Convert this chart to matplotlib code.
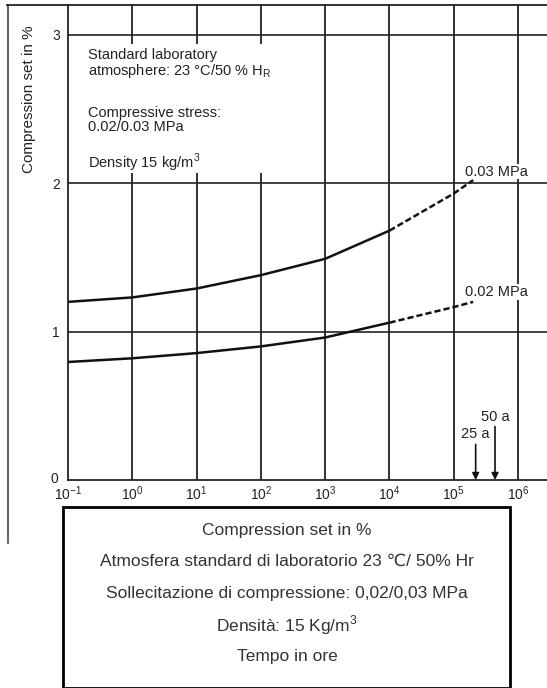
import numpy as np
import matplotlib
matplotlib.use('Agg')
import matplotlib.pyplot as plt
from matplotlib.lines import Line2D
from matplotlib.patches import Rectangle
from matplotlib.transforms import ScaledTranslation

plt.rcParams['font.family'] = ['Liberation Sans', 'DejaVu Sans']

# time in hours (log scale) and compression set in %
hours = [0.1, 1, 10, 100, 1000, 10000]
set_003 = [1.20, 1.23, 1.29, 1.38, 1.49, 1.68]
set_002 = [0.795, 0.82, 0.855, 0.90, 0.96, 1.06]

# extrapolated (dashed) part
hours_ext = [10000, 100000, 200000]
set_003_ext = [1.68, 1.93, 2.02]
set_002_ext = [1.06, 1.165, 1.20]

curve_labels = ['0.03 MPa', '0.02 MPa']
xticks = [0.1, 1, 10, 100, 1000, 10000, 100000, 1000000]
yticks = [0, 1, 2, 3]

# service life markers (25 and 50 years in hours)
life_hours = [25 * 8760, 50 * 8760]
life_labels = ['25 a', '50 a']
life_top = [0.24, 0.36]

fig = plt.figure(figsize=(5.47, 6.88), dpi=100)
ax = fig.add_axes([68 / 547, 1 - 480 / 688, 1 - 68 / 547, 475 / 688])
ax.set_xscale('log')
ax.set_xlim(0.1, 10 ** 6.45)
ax.set_ylim(0, 3.2)

ink = '#111111'
txt = '#222222'
ax.plot(hours, set_003, color=ink, lw=1.8, solid_capstyle='butt')
ax.plot(hours, set_002, color=ink, lw=1.8, solid_capstyle='butt')
ax.plot(hours_ext, set_003_ext, color=ink, lw=1.8, ls=(0, (2.5, 1.2)))
ax.plot(hours_ext, set_002_ext, color=ink, lw=1.8, ls=(0, (2.5, 1.2)))

wbox = dict(facecolor='white', edgecolor='none', pad=0.5)
ax.text(10 ** 5.17, 2.05, curve_labels[0], fontsize=10.5, color=txt,
        bbox=wbox)
ax.text(10 ** 5.17, 1.24, curve_labels[1], fontsize=10.5, color=txt,
        bbox=wbox)

# grid
for x in xticks[1:]:
    ax.axvline(x, color='#222222', lw=1.3, zorder=0)
for y in yticks[1:]:
    ax.axhline(y, color='#222222', lw=1.2, zorder=0)

# white area behind the test conditions
ax.add_patch(Rectangle((10 ** -0.95, 2.07), 10 ** 2.6 - 10 ** -0.95, 0.87,
                       facecolor='white', edgecolor='none', zorder=0.5))

for h, lab, top in zip(life_hours, life_labels, life_top):
    ax.annotate('', xy=(h, 0.0), xytext=(h, top),
                arrowprops=dict(arrowstyle='-|>', color=ink, lw=1.2,
                                mutation_scale=10, shrinkA=0, shrinkB=0))
    ax.text(h, top + 0.02, lab, fontsize=10.5, ha='center', va='bottom',
            color=txt)

ax.set_xticks(xticks)
ax.set_yticks(yticks)
ax.minorticks_off()
ax.tick_params(axis='x', length=0, labelsize=10, colors=txt, pad=3)
ax.tick_params(axis='y', length=0, labelsize=10, colors=txt, pad=6)
lab0 = ax.get_yticklabels()[0]
lab0.set_transform(lab0.get_transform() +
                   ScaledTranslation(-1 / 72, 2 / 72, fig.dpi_scale_trans))
for s in ['top', 'right']:
    ax.spines[s].set_visible(False)
for s in ['left', 'bottom']:
    ax.spines[s].set_linewidth(1.3)
    ax.spines[s].set_color('#222222')

ax.set_ylabel('Compression set in %', fontsize=11, color=txt)
ax.yaxis.set_label_coords(-0.067, 0.802)

info = [(64, 'Standard laboratory\n'
             'atmosphere: 23 °C/50 % H$_\\mathregular{R}$'),
        (120, 'Compressive stress:\n0.02/0.03 MPa'),
        (163, 'Density 15 kg/m$^\\mathregular{3}$')]
for ypix, t in info:
    fig.text(88 / 547, 1 - ypix / 688, t, fontsize=10.5, va='center',
             color=txt, linespacing=1.0)

# scanned page frame
fig.add_artist(Line2D([8 / 547, 8 / 547], [1 - 5 / 688, 1 - 543 / 688],
                      transform=fig.transFigure, color='#444444', lw=1.2))
fig.add_artist(Line2D([7 / 547, 1], [1 - 5 / 688, 1 - 5 / 688],
                      transform=fig.transFigure, color='#222222', lw=1.3))

# Italian caption box
fig.add_artist(Rectangle((63 / 547, 0.0), (510 - 63) / 547, 1 - 507 / 688,
                         transform=fig.transFigure, facecolor='white',
                         edgecolor='black', lw=2))
caption = ['Compression set in %',
           'Atmosfera standard di laboratorio 23 \u2103/ 50% Hr',
           'Sollecitazione di compressione: 0,02/0,03 MPa',
           'Densità: 15 Kg/m$^\\mathregular{3}$',
           'Tempo in ore']
for i, t in enumerate(caption):
    fig.text(287 / 547, 1 - (530 + 31.7 * i) / 688, t, fontsize=12.5,
             ha='center', va='center', color='#333333')

fig.savefig('out.png', dpi=100)
